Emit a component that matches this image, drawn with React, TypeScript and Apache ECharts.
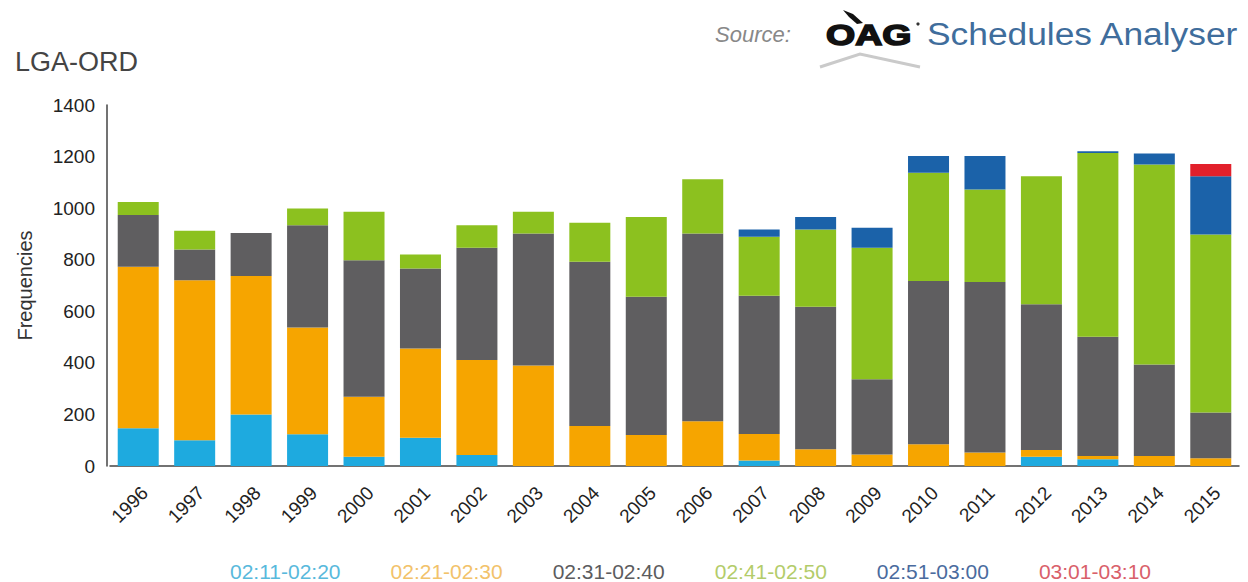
import React, { useEffect, useRef } from "react";
import * as echarts from "echarts";

const years = ["1996","1997","1998","1999","2000","2001","2002","2003","2004","2005","2006","2007","2008","2009","2010","2011","2012","2013","2014","2015"];
const seriesNames = ["02:11-02:20","02:21-02:30","02:31-02:40","02:41-02:50","02:51-03:00","03:01-03:10"];
const s0211 = [146,100,200,123,36,110,43,0,0,0,0,21,0,0,0,0,36,26,0,0];
const s0221 = [627,620,537,414,233,346,368,390,155,120,174,103,65,45,84,52,26,13,39,30];
const s0231 = [200,120,167,397,529,310,435,512,637,536,728,536,553,291,633,662,565,462,355,177];
const s0241 = [51,72,0,65,188,54,88,84,151,310,210,229,299,510,420,358,497,713,775,691];
const s0251 = [0,0,0,0,0,0,0,0,0,0,0,28,49,78,65,130,0,7,43,226];
const s0301 = [0,0,0,0,0,0,0,0,0,0,0,0,0,0,0,0,0,0,0,47];
const yTicks = [0,200,400,600,800,1000,1200,1400];

const colors = ["#1eaadf","#f6a500","#5f5e60","#8cc11f","#1b62a9","#e2202b"];
const legendColors = ["#58b9dc","#f2c26a","#5c5c5e","#b3cc6a","#4a6b9e","#d9606a"];
const FONT = "Liberation Sans, Arial, Helvetica, sans-serif";

export default function App() {
  const ref = useRef<HTMLDivElement>(null);
  useEffect(() => {
    if (!ref.current) return;
    const chart = echarts.init(ref.current, undefined, { renderer: "svg" });
    const all = [s0211, s0221, s0231, s0241, s0251, s0301];
    chart.setOption({
      animation: false,
      textStyle: { fontFamily: FONT },
      grid: { left: 110, right: 9, top: 105, bottom: 116, containLabel: false },
      legend: {
        top: 556,
        left: 220,
        itemWidth: 0,
        itemHeight: 0,
        itemGap: 45,
        icon: "none",
        data: seriesNames.map((n, i) => ({ name: n, icon: "none", textStyle: { color: legendColors[i], fontSize: 21, fontFamily: FONT } })),
      },
      xAxis: {
        type: "category",
        data: years,
        axisLine: { lineStyle: { color: "#444", width: 1.5 } },
        axisTick: { show: false },
        axisLabel: { rotate: 45, color: "#222", fontSize: 19, margin: 30, interval: 0, padding: [0, -9, 0, 0] },
      },
      yAxis: {
        type: "value",
        min: yTicks[0],
        max: yTicks[yTicks.length - 1],
        interval: 200,
        offset: 3,
        name: "Frequencies",
        nameLocation: "middle",
        nameRotate: 90,
        nameGap: 72,
        nameTextStyle: { color: "#333", fontSize: 20 },
        axisLine: { show: true, lineStyle: { color: "#444", width: 1.5 } },
        axisTick: { show: false },
        splitLine: { show: false },
        axisLabel: { color: "#222", fontSize: 19, margin: 12, formatter: (v: number) => String(v) },
      },
      series: seriesNames.map((n, i) => ({
        name: n,
        type: "bar",
        stack: "total",
        barWidth: 41,
        itemStyle: { color: colors[i] },
        data: all[i],
      })),
      graphic: [
        { type: "text", x: 15, y: 62, style: { text: "LGA-ORD", font: `27px ${FONT}`, fill: "#444", verticalAlign: "middle" } },
        { type: "text", x: 715, y: 34, style: { text: "Source:", font: `italic 22px ${FONT}`, fill: "#888", verticalAlign: "middle" } },
        { type: "text", x: 826, y: 34, scaleX: 1.25, style: { text: "OAG", font: `bold 30px ${FONT}`, fill: "#111", stroke: "#111", lineWidth: 1.6, verticalAlign: "middle" } },
        { type: "circle", shape: { cx: 918, cy: 24, r: 1.6 }, style: { fill: "#333" } },
        { type: "text", x: 927, y: 34, scaleX: 1.14, style: { text: "Schedules Analyser", font: `31px ${FONT}`, fill: "#3f6d9c", verticalAlign: "middle" } },
        { type: "polygon", shape: { points: [[843, 10], [853, 14], [863, 23], [857, 24], [849, 17]] }, style: { fill: "#111" } },
        { type: "polyline", shape: { points: [[820, 67], [860, 54], [920, 67]] }, style: { stroke: "#cacaca", lineWidth: 3, fill: "none" } },
      ],
    });
    return () => chart.dispose();
  }, []);
  return <div ref={ref} style={{ position: "absolute", left: 0, top: 0, width: 1248, height: 582 }} />;
}
